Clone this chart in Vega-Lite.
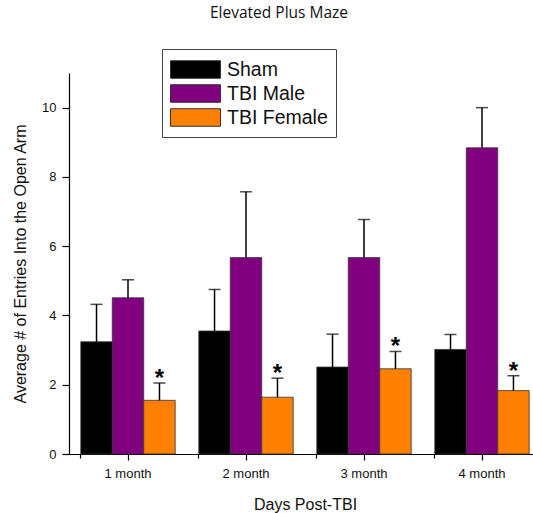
{
  "$schema": "https://vega.github.io/schema/vega-lite/v6.json",
  "autosize": "none",
  "width": 472,
  "height": 381,
  "padding": {"left": 69, "top": 73, "right": 0, "bottom": 59},
  "background": "white",
  "title": {
    "text": "Elevated Plus Maze",
    "font": "Open Sans",
    "fontSize": 15.5,
    "fontWeight": "normal",
    "color": "#111",
    "anchor": "middle",
    "dx": -26,
    "offset": 27
  },
  "config": {
    "view": {"stroke": null},
    "font": "Liberation Sans",
    "axis": {
      "domainColor": "black",
      "tickColor": "black",
      "labelColor": "#111",
      "titleColor": "#111",
      "labelFont": "Liberation Sans",
      "titleFont": "Liberation Sans",
      "titleFontWeight": "normal",
      "grid": false
    }
  },
  "data": {
    "values": [
      {"month": "1 month", "group": "Sham", "value": 3.24, "upper": 4.32},
      {"month": "1 month", "group": "TBI Male", "value": 4.51, "upper": 5.03},
      {"month": "1 month", "group": "TBI Female", "value": 1.55, "upper": 2.05, "sig": "*"},
      {"month": "2 month", "group": "Sham", "value": 3.55, "upper": 4.75},
      {"month": "2 month", "group": "TBI Male", "value": 5.67, "upper": 7.57},
      {"month": "2 month", "group": "TBI Female", "value": 1.64, "upper": 2.19, "sig": "*"},
      {"month": "3 month", "group": "Sham", "value": 2.51, "upper": 3.46},
      {"month": "3 month", "group": "TBI Male", "value": 5.67, "upper": 6.77},
      {"month": "3 month", "group": "TBI Female", "value": 2.46, "upper": 2.96, "sig": "*"},
      {"month": "4 month", "group": "Sham", "value": 3.02, "upper": 3.45},
      {"month": "4 month", "group": "TBI Male", "value": 8.84, "upper": 10.0},
      {"month": "4 month", "group": "TBI Female", "value": 1.83, "upper": 2.26, "sig": "*"}
    ]
  },
  "layer": [
    {
      "mark": {"type": "bar", "stroke": "#333", "strokeWidth": 0.8},
      "encoding": {
        "x": {
          "field": "month",
          "type": "nominal",
          "scale": {"paddingInner": 0.2, "paddingOuter": 0.1},
          "axis": {
            "orient": "bottom",
            "title": "Days Post-TBI",
            "titleFontSize": 16,
            "titlePadding": 16,
            "labelFontSize": 13,
            "labelAngle": 0,
            "labelPadding": 7,
            "tickSize": 6,
            "tickWidth": 1.2,
            "domainWidth": 1.2
          }
        },
        "xOffset": {"field": "group", "type": "nominal", "sort": ["Sham", "TBI Male", "TBI Female"], "scale": {"paddingInner": 0, "paddingOuter": 0}},
        "y": {
          "field": "value",
          "type": "quantitative",
          "scale": {"domain": [0, 11], "nice": false},
          "axis": {
            "title": "Average # of Entries Into the Open Arm",
            "titleFontSize": 16,
            "titlePadding": 13,
            "labelFontSize": 13,
            "labelPadding": 6,
            "values": [0, 1, 2, 3, 4, 5, 6, 7, 8, 9, 10, 11],
            "labelExpr": "datum.value % 2 === 1 ? '' : datum.label",
            "tickSize": {"condition": {"test": "datum.value % 2 === 1", "value": 4}, "value": 7},
            "tickWidth": 1.2,
            "domainWidth": 1.2
          }
        },
        "color": {
          "field": "group",
          "type": "nominal",
          "sort": ["Sham", "TBI Male", "TBI Female"],
          "scale": {"domain": ["Sham", "TBI Male", "TBI Female"], "range": ["#000000", "#800080", "#FF8000"]},
          "legend": {
            "title": null,
            "orient": "none",
            "legendX": 93,
            "legendY": -24,
            "direction": "vertical",
            "symbolType": "M-1,-0.73H3.17V0.73H-1Z",
            "symbolSize": 576,
            "symbolStrokeColor": "#333",
            "symbolStrokeWidth": 1,
            "symbolOpacity": 1,
            "labelFont": "Liberation Sans",
            "labelFontSize": 19.5,
            "labelColor": "#111",
            "labelOffset": 32,
            "rowPadding": 0,
            "padding": 8,
            "strokeColor": "#444",
            "fillColor": "white"
          }
        }
      }
    },
    {
      "mark": {"type": "rule", "color": "black", "strokeWidth": 1.5},
      "encoding": {
        "x": {"field": "month", "type": "nominal", "axis": null},
        "xOffset": {"field": "group", "type": "nominal", "sort": ["Sham", "TBI Male", "TBI Female"]},
        "y": {"field": "value", "type": "quantitative"},
        "y2": {"field": "upper"}
      }
    },
    {
      "mark": {"type": "tick", "color": "black", "thickness": 1.5, "size": 12},
      "encoding": {
        "x": {"field": "month", "type": "nominal", "axis": null},
        "xOffset": {"field": "group", "type": "nominal", "sort": ["Sham", "TBI Male", "TBI Female"]},
        "y": {"field": "upper", "type": "quantitative"}
      }
    },
    {
      "transform": [{"filter": "datum.sig"}],
      "mark": {"type": "text", "fontSize": 24, "fontWeight": "bold", "color": "black", "baseline": "alphabetic", "dy": 3},
      "encoding": {
        "x": {"field": "month", "type": "nominal", "axis": null},
        "xOffset": {"field": "group", "type": "nominal", "sort": ["Sham", "TBI Male", "TBI Female"]},
        "y": {"field": "upper", "type": "quantitative"},
        "text": {"field": "sig"}
      }
    },
    {
      "mark": {"type": "tick", "opacity": 0},
      "encoding": {
        "x": {
          "field": "month",
          "type": "nominal",
          "axis": {"orient": "bottom", "bandPosition": 0, "labels": false, "domain": false, "title": null, "tickSize": 4, "tickWidth": 1.2}
        },
        "y": {"field": "value", "type": "quantitative"}
      }
    }
  ],
  "resolve": {"axis": {"x": "independent"}}
}
